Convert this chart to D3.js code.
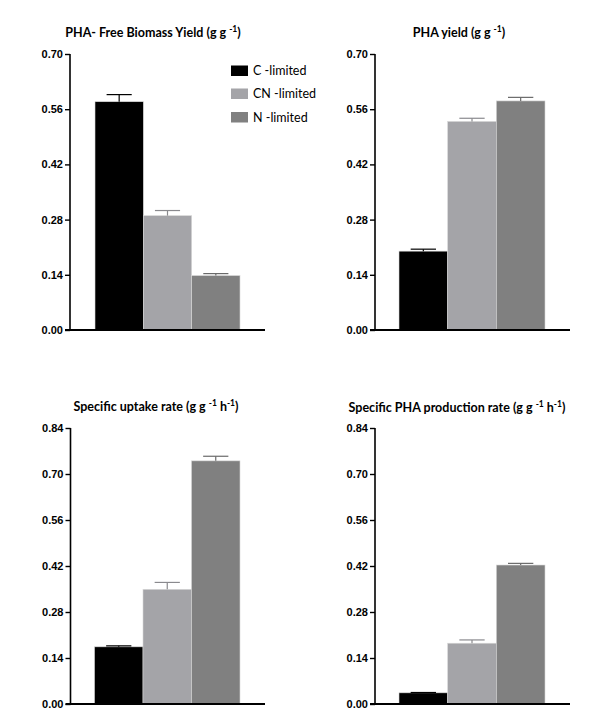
<!DOCTYPE html>
<html>
<head>
<meta charset="utf-8">
<script src="https://cdn.jsdelivr.net/npm/d3@7"></script>
<style>
  body { margin: 0; background: #fff; }
  svg { display: block; }
  .tick text { font-family: "Liberation Sans", Arial, sans-serif; font-weight: bold; font-size: 11px; fill: #000; }
  .title { font-family: Lato, "Open Sans", sans-serif; font-weight: bold; font-size: 12.5px; fill: #000; }
  .leg { font-family: Lato, "Open Sans", sans-serif; font-size: 12.5px; fill: #000; }
</style>
</head>
<body>
<script>
const categories = ["C -limited", "CN -limited", "N -limited"];
const colors = ["#000000", "#a4a4a8", "#808080"];
const errColors = ["#000000", "#8a8a8e", "#6a6a6a"];

const freeBiomassYield = [0.579, 0.290, 0.138];
const freeBiomassErr = [0.018, 0.013, 0.005];
const phaYield = [0.200, 0.529, 0.581];
const phaYieldErr = [0.005, 0.008, 0.009];
const uptakeRate = [0.174, 0.349, 0.740];
const uptakeErr = [0.003, 0.021, 0.014];
const phaProdRate = [0.034, 0.185, 0.423];
const phaProdErr = [0.001, 0.010, 0.005];

const ticksTop = [0, 0.14, 0.28, 0.42, 0.56, 0.70];
const ticksBottom = [0, 0.14, 0.28, 0.42, 0.56, 0.70, 0.84];

const panels = [
  { title: ["PHA- Free Biomass Yield (g g ", "-1", ")"], values: freeBiomassYield, errs: freeBiomassErr, ticks: ticksTop,
    axisX: 70, barL: 95, barR: 240, axisR: 265, yTop: 54, yBot: 330, titleX: 153, titleY: 37, legend: true },
  { title: ["PHA yield (g g ", "-1", ")"], values: phaYield, errs: phaYieldErr, ticks: ticksTop,
    axisX: 375, barL: 399, barR: 545, axisR: 570, yTop: 54, yBot: 330, titleX: 459, titleY: 37 },
  { title: ["Specific uptake rate (g g ", "-1", " h", "-1", ")"], values: uptakeRate, errs: uptakeErr, ticks: ticksBottom,
    axisX: 70.5, barL: 94.5, barR: 240, axisR: 265, yTop: 428, yBot: 704, titleX: 156, titleY: 411 },
  { title: ["Specific PHA production rate (g g ", "-1", " h", "-1", ")"], values: phaProdRate, errs: phaProdErr, ticks: ticksBottom,
    axisX: 375, barL: 399, barR: 545, axisR: 570, yTop: 428, yBot: 704, titleX: 457, titleY: 412 }
];

const svg = d3.select("body").append("svg").attr("width", 600).attr("height", 727);

panels.forEach(p => {
  const g = svg.append("g");
  const y = d3.scaleLinear().domain([0, d3.max(p.ticks)]).range([p.yBot, p.yTop]);
  const x = d3.scaleBand().domain(categories).range([p.barL, p.barR]).paddingInner(0);

  // bars
  g.selectAll("rect.bar").data(p.values).enter().append("rect")
    .attr("class", "bar")
    .attr("x", (d, i) => x(categories[i]))
    .attr("width", x.bandwidth())
    .attr("y", d => y(d))
    .attr("height", d => p.yBot - y(d))
    .attr("fill", (d, i) => colors[i])
    .attr("stroke", "#d8d8d8").attr("stroke-width", 0.6);

  // error bars (upper only)
  p.values.forEach((v, i) => {
    const cx = x(categories[i]) + x.bandwidth() / 2;
    const capW = x.bandwidth() * 0.26;
    const top = y(v + p.errs[i]);
    g.append("line").attr("x1", cx).attr("x2", cx).attr("y1", y(v)).attr("y2", top)
      .attr("stroke", errColors[i]).attr("stroke-width", 1.2);
    g.append("line").attr("x1", cx - capW).attr("x2", cx + capW).attr("y1", top).attr("y2", top)
      .attr("stroke", errColors[i]).attr("stroke-width", 1.2);
  });

  // y axis
  const ax = g.append("g").attr("transform", `translate(${p.axisX},0)`)
    .call(d3.axisLeft(y).tickValues(p.ticks).tickSize(5).tickPadding(2).tickFormat(d3.format(".2f")));
  ax.select(".domain").attr("stroke", "#000").attr("stroke-width", 1.6).attr("d", `M0,${p.yTop}V${p.yBot}`);
  ax.selectAll(".tick line").attr("stroke", "#000").attr("stroke-width", 1.4);

  // x axis baseline
  g.append("line").attr("x1", p.axisX - 5).attr("x2", p.axisR).attr("y1", p.yBot).attr("y2", p.yBot)
    .attr("stroke", "#000").attr("stroke-width", 1.8);

  // title
  const t = g.append("text").attr("class", "title").attr("x", p.titleX).attr("y", p.titleY).attr("text-anchor", "middle");
  p.title.forEach((s, k) => {
    if (k % 2 === 1) {
      t.append("tspan").text(s).attr("font-size", "8.5px").attr("dy", -5);
    } else {
      t.append("tspan").text(s).attr("dy", k === 0 ? 0 : 5);
    }
  });

  // legend
  if (p.legend) {
    const lg = g.append("g");
    const rowY = [70.5, 93.5, 117];
    categories.forEach((c, i) => {
      lg.append("rect").attr("x", 231).attr("y", rowY[i] - 5).attr("width", 17).attr("height", 10.5).attr("fill", colors[i]);
      lg.append("text").attr("class", "leg").attr("x", 253).attr("y", rowY[i] + 4.5).text(c);
    });
  }
});
</script>
</body>
</html>
